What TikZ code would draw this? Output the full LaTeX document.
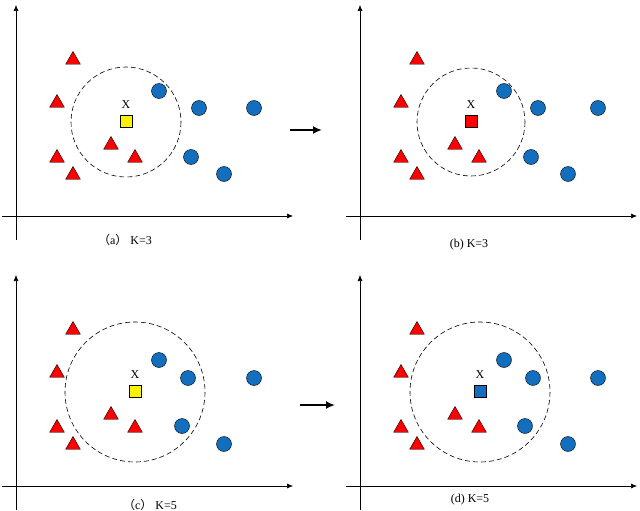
\documentclass[tikz,border=0pt]{standalone}
\usepackage{fontspec}
\setmainfont{Liberation Serif}
\newfontfamily\cjk{Noto Sans CJK SC}
\usetikzlibrary{shapes.geometric,arrows.meta}
\definecolor{dotblue}{RGB}{20,110,190}
\tikzset{
 tri/.style={regular polygon,regular polygon sides=3,fill=red,draw=black,inner sep=0pt,minimum size=17pt},
 dot/.style={circle,fill=dotblue,draw=black,inner sep=0pt,minimum size=15pt},
 sq/.style={rectangle,draw=black,inner sep=0pt,minimum size=12pt},
 axis/.style={-{Latex[length=6pt,width=5pt]},line width=0.6pt},
 rng/.style={dash pattern=on 5pt off 3pt,line width=0.6pt},
 captxt/.style={font=\fontsize{12}{14}\selectfont},
}
\begin{document}
\begin{tikzpicture}[x=1pt,y=-1pt]
\useasboundingbox (0,0) rectangle (640,511);
\foreach \ox/\oy/\ax/\ay/\bx/\by/\cx/\cy/\sx/\sy/\r/\col/\i in {
 0/0/199/108/191/157/159/91/126/121/55/yellow/a,
 344/0/538/108/531/157/504/91/471/121/54/red/b,
 0/270/188/378/182/426/159/360/135/391/70/yellow/c,
 344/270/533/378/525/426/504/360/480/391/70/dotblue/d}{
 \draw[axis] (\ox+16,\oy+240) -- (\ox+16,\oy+5);
 \draw[axis] (\ox+2,\oy+216) -- (\ox+293,\oy+216);
 \draw[rng] (\sx,\sy+1) circle (\r);
 \foreach \tx/\ty [count=\k] in {73/60,57/103,57/158,73/175,111/145,135/158}
   \node[tri] (t\i\k) at (\ox+\tx,\oy+\ty) {};
 \node[dot] (c\i1) at (\cx,\cy) {};
 \node[dot] (c\i2) at (\ax,\ay) {};
 \node[dot] (c\i3) at (\ox+254,\oy+108) {};
 \node[dot] (c\i4) at (\bx,\by) {};
 \node[dot] (c\i5) at (\ox+224,\oy+174) {};
 \node[sq,fill=\col] (s\i) at (\sx,\sy) {};
 \node[captxt] (x\i) at (\sx,\sy-16) {X};
}
\node[captxt] (ca) at (125,240) {{\cjk （}a{\cjk ）} K=3};
\node[captxt] (cb) at (469,245) {(b) K=3};
\node[captxt] (cc) at (150,505) {{\cjk （}c{\cjk ）} K=5};
\node[captxt] (cd) at (470,500) {(d) K=5};
\coordinate (a1) at (290,130); \coordinate (a2) at (322,130);
\coordinate (b1) at (300,405); \coordinate (b2) at (335,405);
\draw[-{Latex[length=9pt,width=8pt]},line width=2.5pt] (a1) -- (a2);
\draw[-{Latex[length=9pt,width=8pt]},line width=2.5pt] (b1) -- (b2);
\end{tikzpicture}
\end{document}
